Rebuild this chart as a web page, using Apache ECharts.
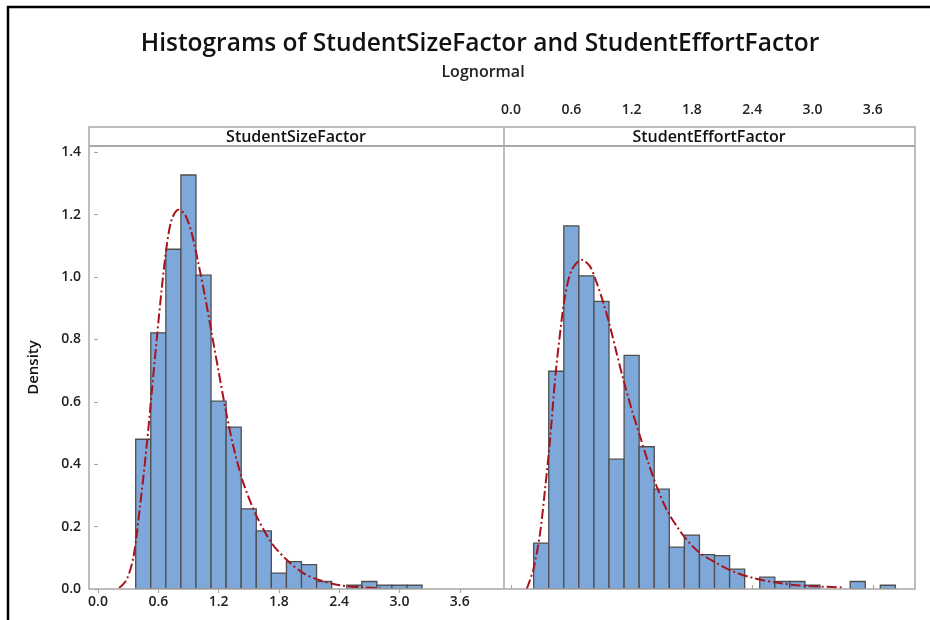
<!DOCTYPE html>
<html>
<head>
<meta charset="utf-8">
<script src="https://cdn.jsdelivr.net/npm/echarts@6/dist/echarts.min.js"></script>
<style>
html,body{margin:0;padding:0;background:#fff;}
#main{width:930px;height:620px;}
</style>
</head>
<body>
<div id="main"></div>
<script>
// ---------------- data ----------------
const panelNames = ['StudentSizeFactor', 'StudentEffortFactor'];
const binWidth = 0.15;

const sizeBinMids = [0.45, 0.60, 0.75, 0.90, 1.05, 1.20, 1.35, 1.50, 1.65, 1.80,
                     1.95, 2.10, 2.25, 2.40, 2.55, 2.70, 2.85, 3.00, 3.15];
const sizeDensity = [0.480, 0.821, 1.089, 1.327, 1.006, 0.602, 0.519, 0.257, 0.186, 0.051,
                     0.088, 0.078, 0.024, 0.000, 0.012, 0.024, 0.012, 0.012, 0.012];

const effortBinMids = [0.30, 0.45, 0.60, 0.75, 0.90, 1.05, 1.20, 1.35, 1.50, 1.65,
                       1.80, 1.95, 2.10, 2.25, 2.40, 2.55, 2.70, 2.85, 3.00, 3.15,
                       3.30, 3.45, 3.60, 3.75];
const effortDensity = [0.147, 0.698, 1.164, 1.004, 0.922, 0.416, 0.749, 0.456, 0.320, 0.134,
                       0.173, 0.110, 0.107, 0.064, 0.000, 0.038, 0.024, 0.024, 0.012, 0.000,
                       0.000, 0.024, 0.000, 0.012];

// fitted lognormal curves
const sizeFitX = [0.21, 0.285, 0.354, 0.418, 0.484, 0.534, 0.584, 0.633, 0.683, 0.733, 0.799,
                  0.866, 0.932, 0.998, 1.065, 1.131, 1.197, 1.264, 1.347, 1.446, 1.579, 1.728,
                  1.877, 2.043, 2.209, 2.408, 2.64, 2.81];
const sizeFitY = [0.003, 0.030, 0.105, 0.265, 0.457, 0.628, 0.799, 0.959, 1.098, 1.184, 1.216,
                  1.200, 1.141, 1.045, 0.938, 0.820, 0.703, 0.585, 0.457, 0.340, 0.233, 0.147,
                  0.094, 0.051, 0.028, 0.012, 0.005, 0.003];

const effortFitX = [0.156, 0.222, 0.289, 0.338, 0.388, 0.438, 0.488, 0.537, 0.604, 0.703, 0.786,
                    0.853, 0.919, 0.985, 1.051, 1.118, 1.201, 1.284, 1.367, 1.449, 1.549, 1.649,
                    1.748, 1.881, 2.046, 2.212, 2.411, 2.61, 2.876, 3.307];
const effortFitY = [0.000, 0.062, 0.179, 0.318, 0.478, 0.671, 0.820, 0.938, 1.023, 1.055, 1.034,
                    0.981, 0.917, 0.842, 0.756, 0.671, 0.575, 0.489, 0.404, 0.329, 0.254, 0.201,
                    0.158, 0.115, 0.083, 0.056, 0.035, 0.022, 0.011, 0.005];

const xTickValues = [0, 0.6, 1.2, 1.8, 2.4, 3.0, 3.6];
const yTickValues = [0, 0.2, 0.4, 0.6, 0.8, 1.0, 1.2, 1.4];

const titleText = 'Histograms of StudentSizeFactor and StudentEffortFactor';
const subtitleText = 'Lognormal';
const yName = 'Density';

// ---------------- chart ----------------
const FONT = '"Open Sans", "Noto Sans", sans-serif';
const GRAY = '#a8a8a8';
const TXT = '#222';

function zip(a, b) { return a.map((v, i) => [v, b[i]]); }

function histRender(params, api) {
  const mid = api.value(0), h = api.value(1);
  if (!(h > 0)) return null;
  const p0 = api.coord([mid - binWidth / 2, 0]);
  const p1 = api.coord([mid + binWidth / 2, h]);
  return {
    type: 'rect',
    shape: { x: p0[0], y: p1[1], width: p1[0] - p0[0], height: p0[1] - p1[1] },
    style: { fill: '#7ea7da', stroke: '#4f4f4f', lineWidth: 1.3 }
  };
}

const axisLabelBase = { color: TXT, fontFamily: FONT, fontSize: 14, fontWeight: 600,
                        formatter: v => v.toFixed(1) };

const chart = echarts.init(document.getElementById('main'), null, { renderer: 'canvas' });
chart.setOption({
  animation: false,
  backgroundColor: '#fff',
  title: [
    { text: titleText, left: 475, top: 27, textAlign: 'center',
      textStyle: { fontFamily: FONT, fontSize: 24.5, fontWeight: 600, color: '#111' } },
    { text: subtitleText, left: 478, top: 59, textAlign: 'center',
      textStyle: { fontFamily: FONT, fontSize: 16, fontWeight: 600, color: '#222' } }
  ],
  grid: [
    { left: 89, top: 146, width: 415, height: 443 },
    { left: 504, top: 146, width: 411, height: 443 }
  ],
  xAxis: [
    { type: 'value', gridIndex: 0, min: -0.0896, max: 4.04, position: 'bottom',
      axisLine: { show: false }, splitLine: { show: false },
      axisTick: { show: true, length: 4, customValues: xTickValues, lineStyle: { color: GRAY, width: 1.2 } },
      axisLabel: Object.assign({ customValues: xTickValues, margin: 6 }, axisLabelBase) },
    { type: 'value', gridIndex: 1, min: -0.07, max: 4.02, position: 'top', offset: 19,
      axisLine: { show: false }, splitLine: { show: false },
      axisTick: { show: true, length: 4, customValues: xTickValues, lineStyle: { color: GRAY, width: 1.2 } },
      axisLabel: Object.assign({ customValues: xTickValues, margin: 10 }, axisLabelBase) }
  ],
  yAxis: [
    { type: 'value', gridIndex: 0, min: 0, max: 1.42,
      axisLine: { show: false }, splitLine: { show: false },
      axisTick: { show: true, length: 4, customValues: yTickValues, lineStyle: { color: GRAY, width: 1.2 } },
      axisLabel: Object.assign({ customValues: yTickValues, margin: 8 }, axisLabelBase),
      name: yName, nameLocation: 'middle', nameGap: 48, nameRotate: 90,
      nameTextStyle: { fontFamily: FONT, fontSize: 15, fontWeight: 600, color: '#111' } },
    { type: 'value', gridIndex: 1, min: 0, max: 1.42, show: false }
  ],
  series: [
    { type: 'custom', xAxisIndex: 0, yAxisIndex: 0, renderItem: histRender,
      data: zip(sizeBinMids, sizeDensity), z: 2, clip: true },
    { type: 'custom', xAxisIndex: 1, yAxisIndex: 1, renderItem: histRender,
      data: zip(effortBinMids, effortDensity), z: 2, clip: true },
    { type: 'line', xAxisIndex: 0, yAxisIndex: 0, data: zip(sizeFitX, sizeFitY),
      smooth: 0.3, showSymbol: false, z: 5,
      lineStyle: { color: '#a8141c', width: 2, type: [10, 3, 2, 3] } },
    { type: 'line', xAxisIndex: 1, yAxisIndex: 1, data: zip(effortFitX, effortFitY),
      smooth: 0.3, showSymbol: false, z: 5,
      lineStyle: { color: '#a8141c', width: 2, type: [10, 3, 2, 3] } }
  ],
  graphic: [
    // outer black frame (left and top edges)
    { type: 'line', shape: { x1: 8, y1: 6, x2: 8, y2: 620 }, style: { stroke: '#000', lineWidth: 2.5 }, z: 10 },
    { type: 'line', shape: { x1: 7, y1: 7, x2: 930, y2: 7 }, style: { stroke: '#000', lineWidth: 2.5 }, z: 10 },
    // panel frames
    { type: 'rect', shape: { x: 89, y: 127, width: 826, height: 462 },
      style: { fill: 'none', stroke: GRAY, lineWidth: 1.5 }, z: 10 },
    { type: 'line', shape: { x1: 89, y1: 146, x2: 915, y2: 146 }, style: { stroke: GRAY, lineWidth: 2 }, z: 10 },
    { type: 'line', shape: { x1: 504, y1: 127, x2: 504, y2: 589 }, style: { stroke: GRAY, lineWidth: 1.5 }, z: 10 },
    // strip labels
    { type: 'text', x: 296, y: 137, z: 10,
      style: { text: panelNames[0], textAlign: 'center', textVerticalAlign: 'middle',
               fontFamily: FONT, fontSize: 16, fontWeight: 600, fill: '#111' } },
    { type: 'text', x: 709, y: 137, z: 10,
      style: { text: panelNames[1], textAlign: 'center', textVerticalAlign: 'middle',
               fontFamily: FONT, fontSize: 16, fontWeight: 600, fill: '#111' } }
  ]
});
</script>
</body>
</html>
